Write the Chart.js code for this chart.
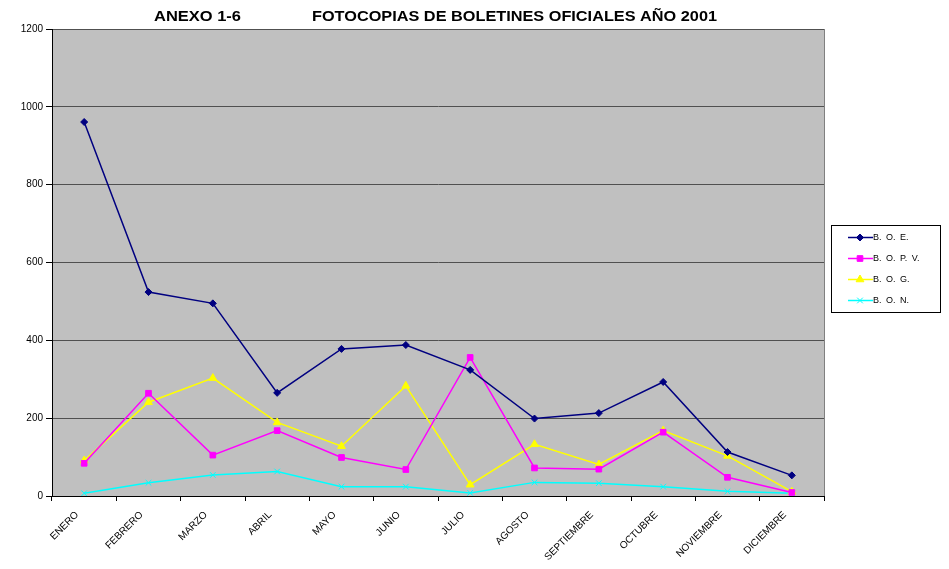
<!DOCTYPE html>
<html>
<head>
<meta charset="utf-8">
<script src="https://cdn.jsdelivr.net/npm/chart.js@4/dist/chart.umd.min.js"></script>
<style>
  html, body { margin: 0; padding: 0; background: #ffffff; }
  canvas { display: block; }
</style>
</head>
<body>
<canvas id="c" width="949" height="569"></canvas>
<script>
const months = ['ENERO','FEBRERO','MARZO','ABRIL','MAYO','JUNIO','JULIO','AGOSTO','SEPTIEMBRE','OCTUBRE','NOVIEMBRE','DICIEMBRE'];
const seriesNames = ['B. O. E.', 'B. O. P. V.', 'B. O. G.', 'B. O. N.'];
const boe  = [961, 524, 495, 265, 378, 388, 324, 199, 213, 293, 113, 53];
const bopv = [84, 264, 105, 168, 99, 68, 356, 72, 69, 164, 48, 9];
const bog  = [91, 241, 303, 189, 128, 283, 29, 133, 81, 168, 103, 11];
const bon  = [7, 34, 54, 63, 24, 24, 8, 35, 33, 24, 12, 7];
const yTicks = [0, 200, 400, 600, 800, 1000, 1200];
const titleLeft = 'ANEXO 1-6';
const titleMain = 'FOTOCOPIAS DE BOLETINES OFICIALES AÑO 2001';

const FONT = '"Liberation Sans", Arial, sans-serif';

const colors = ['#000080', '#FF00FF', '#FFFF00', '#00FFFF'];
const styles = ['rectRot', 'rect', 'triangle', 'crossRot'];
const radii = [3.5, 4, 4.5, 4];
const values = [boe, bopv, bog, bon];

const datasets = values.map((v, i) => ({
  label: seriesNames[i],
  data: v,
  borderColor: colors[i],
  backgroundColor: colors[i],
  pointBackgroundColor: colors[i],
  pointBorderColor: colors[i],
  pointStyle: styles[i],
  pointRadius: radii[i],
  pointBorderWidth: 1,
  borderWidth: 1.5,
  tension: 0,
  fill: false
}));

function drawText(ctx, text, x, y, targetW) {
  const w = ctx.measureText(text).width;
  ctx.save();
  ctx.translate(x, y);
  if (targetW) ctx.scale(targetW / w, 1);
  ctx.fillText(text, 0, 0);
  ctx.restore();
}

function drawMarker(ctx, style, r, x, y) {
  ctx.beginPath();
  if (style === 'rectRot') {
    ctx.moveTo(x, y - r); ctx.lineTo(x + r, y); ctx.lineTo(x, y + r); ctx.lineTo(x - r, y); ctx.closePath();
    ctx.fill(); ctx.stroke();
  } else if (style === 'rect') {
    const s = r * Math.SQRT1_2;
    ctx.rect(x - s, y - s, 2 * s, 2 * s); ctx.fill(); ctx.stroke();
  } else if (style === 'triangle') {
    ctx.moveTo(x - r * Math.sin(Math.PI / 3), y + r * 0.5);
    ctx.lineTo(x, y - r);
    ctx.lineTo(x + r * Math.sin(Math.PI / 3), y + r * 0.5);
    ctx.closePath(); ctx.fill(); ctx.stroke();
  } else if (style === 'crossRot') {
    const s = r * Math.SQRT1_2;
    ctx.moveTo(x - s, y - s); ctx.lineTo(x + s, y + s);
    ctx.moveTo(x + s, y - s); ctx.lineTo(x - s, y + s);
    ctx.stroke();
  }
}

const deco = {
  id: 'deco',
  beforeDraw(chart) {
    const { ctx, chartArea: a } = chart;
    ctx.save();
    ctx.fillStyle = '#C0C0C0';
    ctx.fillRect(a.left, a.top, a.right - a.left, a.bottom - a.top);
    ctx.strokeStyle = '#808080';
    ctx.lineWidth = 1;
    ctx.strokeRect(Math.round(a.left) + 0.5, Math.round(a.top) + 0.5, Math.round(a.right - a.left), Math.round(a.bottom - a.top));
    ctx.restore();
  },
  afterDraw(chart) {
    const ctx = chart.ctx;
    ctx.save();
    // title
    ctx.fillStyle = '#000';
    ctx.font = 'bold 15px ' + FONT;
    ctx.textBaseline = 'alphabetic';
    drawText(ctx, titleLeft, 154, 20.5, 87);
    drawText(ctx, titleMain, 312, 20.5, 405);
    // legend
    const bx = 831, by = 225, bw = 109, bh = 87;
    ctx.fillStyle = '#fff';
    ctx.fillRect(bx, by, bw, bh);
    ctx.strokeStyle = '#000';
    ctx.lineWidth = 1;
    ctx.strokeRect(bx + 0.5, by + 0.5, bw, bh);
    const rows = [237, 258, 279, 300];
    chart.data.datasets.forEach((ds, i) => {
      const y = rows[i] + 0.5;
      ctx.strokeStyle = ds.borderColor;
      ctx.lineWidth = 1.5;
      ctx.beginPath();
      ctx.moveTo(848, y);
      ctx.lineTo(873, y);
      ctx.stroke();
      ctx.fillStyle = ds.backgroundColor;
      ctx.strokeStyle = ds.borderColor;
      ctx.lineWidth = 1;
      drawMarker(ctx, ds.pointStyle, ds.pointRadius, 860, y);
      ctx.fillStyle = '#000';
      ctx.font = '9px ' + FONT;
      ctx.textBaseline = 'middle';
      try { ctx.wordSpacing = '2px'; } catch (e) {}
      ctx.fillText(ds.label, 873, y + 0.5);
      try { ctx.wordSpacing = '0px'; } catch (e) {}
    });
    ctx.restore();
  }
};

new Chart(document.getElementById('c'), {
  type: 'line',
  data: { labels: months, datasets },
  options: {
    responsive: false,
    devicePixelRatio: 1,
    animation: false,
    layout: { padding: { top: 29, right: 125, left: 0, bottom: 0 } },
    plugins: {
      legend: { display: false },
      title: { display: false },
      tooltip: { enabled: false }
    },
    scales: {
      x: {
        offset: true,
        grid: {
          offset: true,
          drawOnChartArea: false,
          drawTicks: true,
          tickLength: 5,
          tickColor: '#000',
          color: '#000'
        },
        border: { color: '#000', width: 1 },
        ticks: {
          minRotation: 45,
          maxRotation: 45,
          autoSkip: false,
          padding: 8,
          labelOffset: -7,
          color: '#000',
          font: { family: FONT, size: 10 }
        },
        afterFit(s) { s.height = 73; }
      },
      y: {
        min: 0,
        max: 1200,
        afterBuildTicks(s) { s.ticks = yTicks.map(v => ({ value: v })); },
        grid: {
          color: '#505050',
          lineWidth: 1,
          tickLength: 6,
          tickColor: '#000'
        },
        border: { color: '#000', width: 1 },
        ticks: {
          padding: 3,
          color: '#000',
          font: { family: FONT, size: 10 },
          callback: (v) => String(v)
        },
        afterFit(s) { s.width = 52; }
      }
    }
  },
  plugins: [deco]
});
</script>
</body>
</html>
